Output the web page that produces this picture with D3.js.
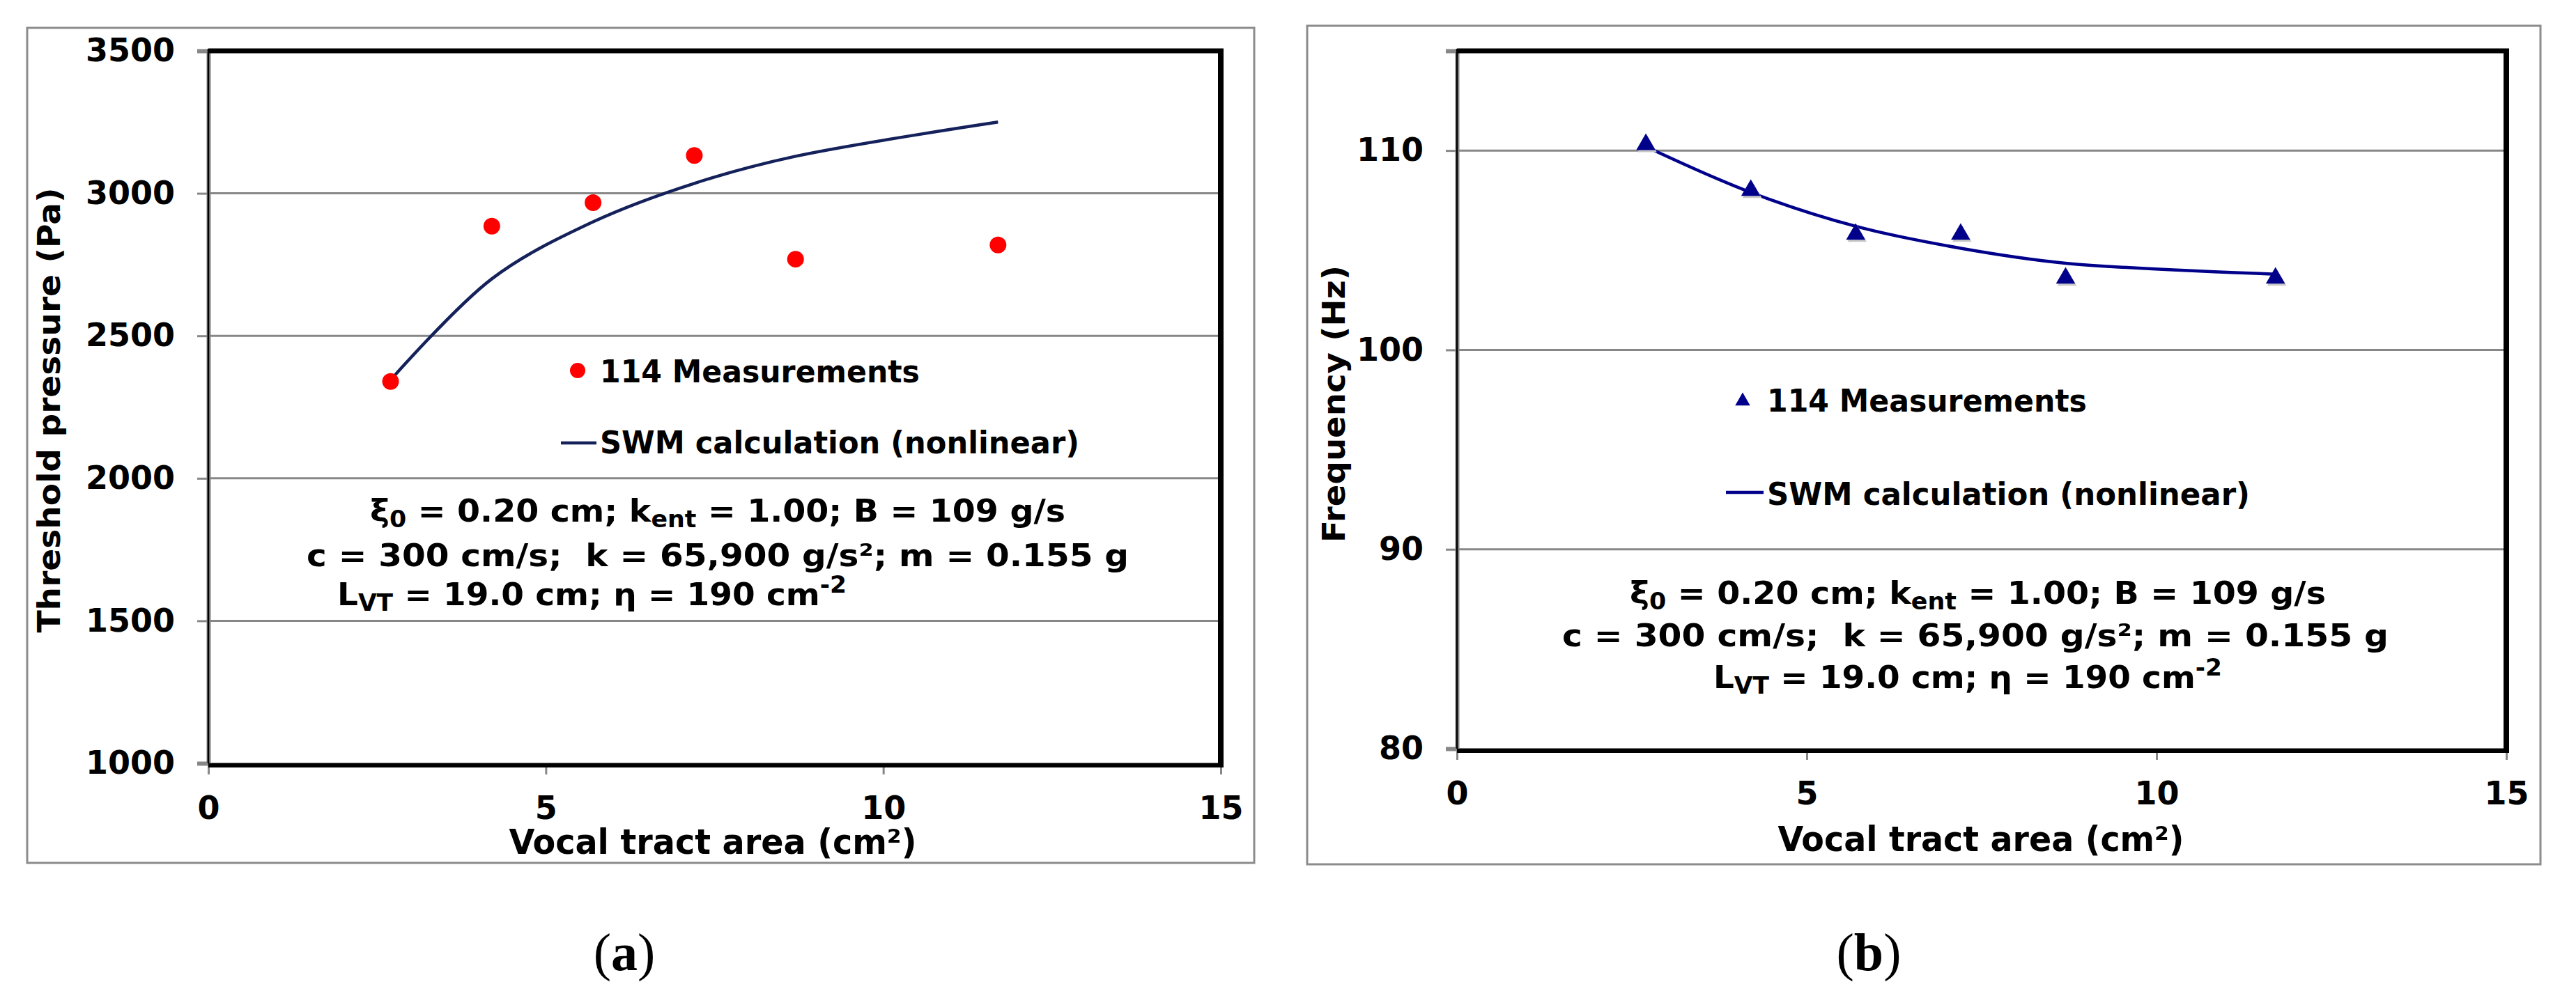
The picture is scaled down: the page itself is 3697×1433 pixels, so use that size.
<!DOCTYPE html>
<html>
<head>
<meta charset="utf-8">
<script src="https://cdn.jsdelivr.net/npm/d3@7"></script>
<style>
  html, body { margin: 0; padding: 0; background: #fff; }
  svg { display: block; }
  text { white-space: pre; }
</style>
</head>
<body>
<svg id="chart" width="3697" height="1433"></svg>
<script>
// ---------------- DATA ----------------
const vocalTractArea = [2.7, 4.2, 5.7, 7.2, 8.7, 11.7];
const pressureMeasured = [2340, 2885, 2967, 3133, 2769, 2819];
const pressureCalculated = [2345, 2700, 2900, 3035, 3130, 3250];
const frequencyMeasured = [110.3, 108.0, 105.8, 105.8, 103.6, 103.6];
const frequencyCalculated = [110.2, 107.9, 106.2, 105.1, 104.35, 103.8];

const xTicks = [0, 5, 10, 15];
const pressureTicks = [1000, 1500, 2000, 2500, 3000, 3500];
const frequencyTicks = [80, 90, 100, 110];

const legendLabels = ["114 Measurements", "SWM calculation (nonlinear)"];
const xTitle = "Vocal tract area (cm²)";
const paramLines = [
  [["ξ", ""], ["0", "sub"], [" = 0.20 cm; k", ""], ["ent", "sub"], [" = 1.00; B = 109 g/s", ""]],
  [["c = 300 cm/s;  k = 65,900 g/s²; m = 0.155 g", ""]],
  [["L", ""], ["VT", "sub"], [" = 19.0 cm; η = 190 cm", ""], ["-2", "sup"]]
];

// ---------------- LAYOUT ----------------
const panels = [
  {
    frame: {x: 39, y: 40, w: 1761, h: 1199},
    plot: {x0: 299, x1: 1752, y0: 73, y1: 1096},
    yDomain: [1000, 3500], yTicks: pressureTicks,
    measured: pressureMeasured, calculated: pressureCalculated,
    marker: "circle", markerColor: "#ff0000", lineColor: "#14215a",
    yTitle: {text: "Threshold pressure (Pa)", x: 86, cy: 589, len: 639},
    xTitle: {cx: 1023, y: 1226, len: 585},
    legend: {mx: 829, my: 532, tx: 861, ty: 549, lx0: 805, lx1: 856, ly: 636, ty2: 651, len1: 459, len2: 688},
    params: [{x: 531, y: 749, len: 998}, {x: 440, y: 813, len: 1180}, {x: 484, y: 869, len: 731}],
    label: {main: "a", cx: 896, y: 1393}
  },
  {
    frame: {x: 1876, y: 37, w: 1770, h: 1204},
    plot: {x0: 2091, x1: 3597, y0: 73, y1: 1075},
    yDomain: [80, 115], yTicks: frequencyTicks,
    measured: frequencyMeasured, calculated: frequencyCalculated,
    marker: "triangle", markerColor: "#00008b", lineColor: "#00008b",
    yTitle: {text: "Frequency (Hz)", x: 1930, cy: 580, len: 398},
    xTitle: {cx: 2843, y: 1222, len: 583},
    legend: {mx: 2501, my: 576, tx: 2536, ty: 591, lx0: 2477, lx1: 2531, ly: 707, ty2: 725, len1: 459, len2: 693},
    params: [{x: 2339, y: 867, len: 999}, {x: 2242, y: 928, len: 1186}, {x: 2459, y: 988, len: 730}],
    label: {main: "b", cx: 2682, y: 1393}
  }
];

const svg = d3.select("#chart");
const tickFont = "'DejaVu Sans', Verdana, sans-serif";
const condFont = "'DejaVu Sans Condensed', 'DejaVu Sans', sans-serif";
const gridColor = "#878787";

const triangle = d3.symbol().type(d3.symbolTriangle).size(330);

panels.forEach(p => {
  const g = svg.append("g");
  const P = p.plot;
  const x = d3.scaleLinear().domain([0, 15]).range([P.x0, P.x1]);
  const y = d3.scaleLinear().domain(p.yDomain).range([P.y1, P.y0]);

  // outer frame
  g.append("rect")
    .attr("x", p.frame.x).attr("y", p.frame.y)
    .attr("width", p.frame.w).attr("height", p.frame.h)
    .attr("fill", "none").attr("stroke", "#8c8c8c").attr("stroke-width", 3);

  // gridlines
  g.append("g").selectAll("line")
    .data(p.yTicks.filter(t => t > p.yDomain[0] && t < p.yDomain[1]))
    .join("line")
    .attr("x1", P.x0).attr("x2", P.x1)
    .attr("y1", d => y(d)).attr("y2", d => y(d))
    .attr("stroke", gridColor).attr("stroke-width", 3);

  // y axis
  const ya = g.append("g").attr("transform", `translate(${P.x0},0)`)
    .call(d3.axisLeft(y).tickValues(p.yTicks).tickSize(16).tickPadding(32).tickFormat(d3.format("d")));
  ya.select(".domain").attr("stroke", gridColor).attr("stroke-width", 6);
  ya.selectAll(".tick line").attr("stroke", gridColor).attr("stroke-width", 3);
  ya.selectAll(".tick text").attr("font-family", tickFont).attr("font-weight", "bold")
    .attr("font-size", 46).attr("fill", "#000");

  // x axis
  const xa = g.append("g").attr("transform", `translate(0,${P.y1})`)
    .call(d3.axisBottom(x).tickValues(xTicks).tickSize(16).tickPadding(31).tickFormat(d3.format("d")));
  xa.select(".domain").attr("stroke", gridColor).attr("stroke-width", 3);
  xa.selectAll(".tick line").attr("stroke", gridColor).attr("stroke-width", 3);
  xa.selectAll(".tick text").attr("font-family", tickFont).attr("font-weight", "bold")
    .attr("font-size", 46).attr("fill", "#000");

  // plot area border
  const b = g.append("g").attr("stroke", "#000");
  b.append("line").attr("x1", P.x0).attr("x2", P.x1 + 4).attr("y1", P.y0).attr("y2", P.y0).attr("stroke-width", 7);
  b.append("line").attr("x1", P.x1).attr("x2", P.x1).attr("y1", P.y0 - 3).attr("y2", P.y1 + 3).attr("stroke-width", 8);
  b.append("line").attr("x1", P.x0).attr("x2", P.x0).attr("y1", P.y0 - 3).attr("y2", P.y1).attr("stroke-width", 2.5);
  b.append("line").attr("x1", P.x0).attr("x2", P.x1 + 4).attr("y1", P.y1 + 3).attr("y2", P.y1 + 3).attr("stroke-width", 6);

  // calculated line
  const pts = vocalTractArea.map((v, i) => [v, p.calculated[i]]);
  g.append("path").datum(pts)
    .attr("d", d3.line().x(d => x(d[0])).y(d => y(d[1])).curve(d3.curveCatmullRom.alpha(0.5)))
    .attr("fill", "none").attr("stroke", p.lineColor).attr("stroke-width", 4.5);

  // measured markers
  const mpts = vocalTractArea.map((v, i) => [v, p.measured[i]]);
  if (p.marker === "circle") {
    g.append("g").selectAll("circle").data(mpts).join("circle")
      .attr("cx", d => x(d[0])).attr("cy", d => y(d[1])).attr("r", 12)
      .attr("fill", p.markerColor);
  } else {
    g.append("g").selectAll("path.sh").data(mpts).join("path")
      .attr("transform", d => `translate(${x(d[0]) + 2},${y(d[1]) + 3})`)
      .attr("d", triangle).attr("fill", "#c8c8c8");
    g.append("g").selectAll("path.mk").data(mpts).join("path")
      .attr("transform", d => `translate(${x(d[0])},${y(d[1])})`)
      .attr("d", triangle).attr("fill", p.markerColor);
  }

  // legend
  const L = p.legend;
  if (p.marker === "circle") {
    g.append("circle").attr("cx", L.mx).attr("cy", L.my).attr("r", 11).attr("fill", p.markerColor);
  } else {
    g.append("path").attr("transform", `translate(${L.mx},${L.my})`)
      .attr("d", d3.symbol().type(d3.symbolTriangle).size(200)).attr("fill", p.markerColor);
  }
  g.append("line").attr("x1", L.lx0).attr("x2", L.lx1).attr("y1", L.ly).attr("y2", L.ly)
    .attr("stroke", p.lineColor).attr("stroke-width", 4.5);
  g.append("text").attr("x", L.tx).attr("y", L.ty).text(legendLabels[0])
    .attr("font-family", condFont).attr("font-weight", "bold").attr("font-size", 45)
    .attr("textLength", L.len1).attr("lengthAdjust", "spacingAndGlyphs");
  g.append("text").attr("x", L.tx).attr("y", L.ty2).text(legendLabels[1])
    .attr("font-family", condFont).attr("font-weight", "bold").attr("font-size", 45)
    .attr("textLength", L.len2).attr("lengthAdjust", "spacingAndGlyphs");

  // parameter text
  paramLines.forEach((segs, i) => {
    const pos = p.params[i];
    const t = g.append("text").attr("x", pos.x).attr("y", pos.y)
      .attr("font-family", condFont).attr("font-weight", "bold").attr("font-size", 45)
      .attr("textLength", pos.len).attr("lengthAdjust", "spacingAndGlyphs");
    let shift = 0;
    segs.forEach(([s, mode]) => {
      let target = mode === "sub" ? 8 : mode === "sup" ? -18 : 0;
      const ts = t.append("tspan").text(s).attr("dy", target - shift);
      if (mode) ts.attr("font-size", 33);
      shift = target;
    });
  });

  // axis titles
  g.append("text").attr("x", p.xTitle.cx).attr("y", p.xTitle.y).attr("text-anchor", "middle")
    .attr("font-family", condFont).attr("font-weight", "bold").attr("font-size", 49)
    .attr("textLength", p.xTitle.len).attr("lengthAdjust", "spacingAndGlyphs")
    .text(xTitle);
  g.append("text")
    .attr("transform", `translate(${p.yTitle.x},${p.yTitle.cy}) rotate(-90)`)
    .attr("text-anchor", "middle")
    .attr("font-family", tickFont).attr("font-weight", "bold").attr("font-size", 44)
    .attr("textLength", p.yTitle.len).attr("lengthAdjust", "spacingAndGlyphs")
    .text(p.yTitle.text);

  // panel label
  const lab = g.append("text").attr("x", p.label.cx).attr("y", p.label.y).attr("text-anchor", "middle")
    .attr("font-family", "'Liberation Serif', 'Times New Roman', serif").attr("font-size", 76);
  lab.append("tspan").text("(");
  lab.append("tspan").attr("font-weight", "bold").text(p.label.main);
  lab.append("tspan").text(")");
});
</script>
</body>
</html>
